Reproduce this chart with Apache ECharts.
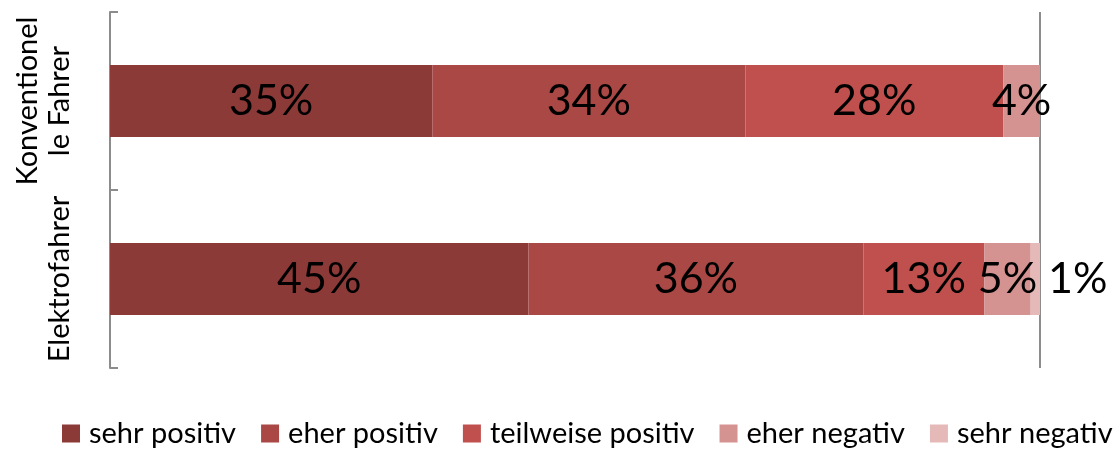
<!DOCTYPE html>
<html>
<head>
<meta charset="utf-8">
<script src="https://cdn.jsdelivr.net/npm/echarts@6/dist/echarts.min.js"></script>
<style>
  html, body { margin: 0; padding: 0; background: #fff; }
  #main { width: 1120px; height: 453px; }
</style>
</head>
<body>
<div id="main"></div>
<script>
  // Daten
  var categories = ['Konventionel\nle Fahrer', 'Elektrofahrer'];
  var seriesNames = ['sehr positiv', 'eher positiv', 'teilweise positiv', 'eher negativ', 'sehr negativ'];
  var sehrPositiv = [35, 45];
  var eherPositiv = [34, 36];
  var teilweisePositiv = [28, 13];
  var eherNegativ = [4, 5];
  var sehrNegativ = [0, 1];
  var colors = ['#8C3A38', '#AA4845', '#C0504D', '#D49391', '#E5B9B8'];

  var rows = [sehrPositiv, eherPositiv, teilweisePositiv, eherNegativ, sehrNegativ];
  // 100%-Stapel: jede Zeile auf ihre Summe normieren
  var totals = categories.map(function (c, i) {
    return rows.reduce(function (s, r) { return s + r[i]; }, 0);
  });

  var myChart = echarts.init(document.getElementById('main'));

  var series = rows.map(function (r, k) {
    return {
      name: seriesNames[k],
      type: 'bar',
      stack: 'total',
      barWidth: 72,
      itemStyle: { color: colors[k] },
      labelLayout: { hideOverlap: false },
      label: {
        show: true,
        position: k === 4 ? 'right' : 'inside',
        distance: 8,
        color: '#000',
        fontSize: 43,
        fontFamily: 'Lato',
        formatter: function (p) {
          var v = r[p.dataIndex];
          return v > 0 ? v + '%' : '';
        }
      },
      data: r.map(function (v, i) { return v / totals[i] * 100; })
    };
  });

  var option = {
    animation: false,
    textStyle: { fontFamily: 'Lato' },
    grid: { left: 110, right: 80, top: 12, bottom: 85 },
    legend: {
      bottom: 0,
      left: 57,
      itemWidth: 18,
      itemHeight: 18,
      itemGap: 25,
      icon: 'rect',
      textStyle: { fontSize: 29, color: '#000', fontFamily: 'Lato', padding: [0, 0, 0, 4] },
      data: seriesNames
    },
    xAxis: {
      type: 'value',
      min: 0,
      max: 100,
      interval: 100,
      axisLine: { show: false },
      axisTick: { show: false },
      axisLabel: { show: false },
      splitLine: { show: true, lineStyle: { color: '#8c8c8c', width: 2 } }
    },
    yAxis: {
      type: 'category',
      inverse: true,
      data: categories,
      axisLine: { show: true, lineStyle: { color: '#8c8c8c', width: 2 } },
      axisTick: { show: true, inside: true, length: 8, lineStyle: { color: '#8c8c8c', width: 2 } },
      axisLabel: {
        interval: 0,
        hideOverlap: false,
        rotate: 90,
        margin: 34,
        fontSize: 29,
        color: '#000',
        lineHeight: 32,
        fontFamily: 'Lato'
      }
    },
    series: series
  };

  myChart.setOption(option);
</script>
</body>
</html>
